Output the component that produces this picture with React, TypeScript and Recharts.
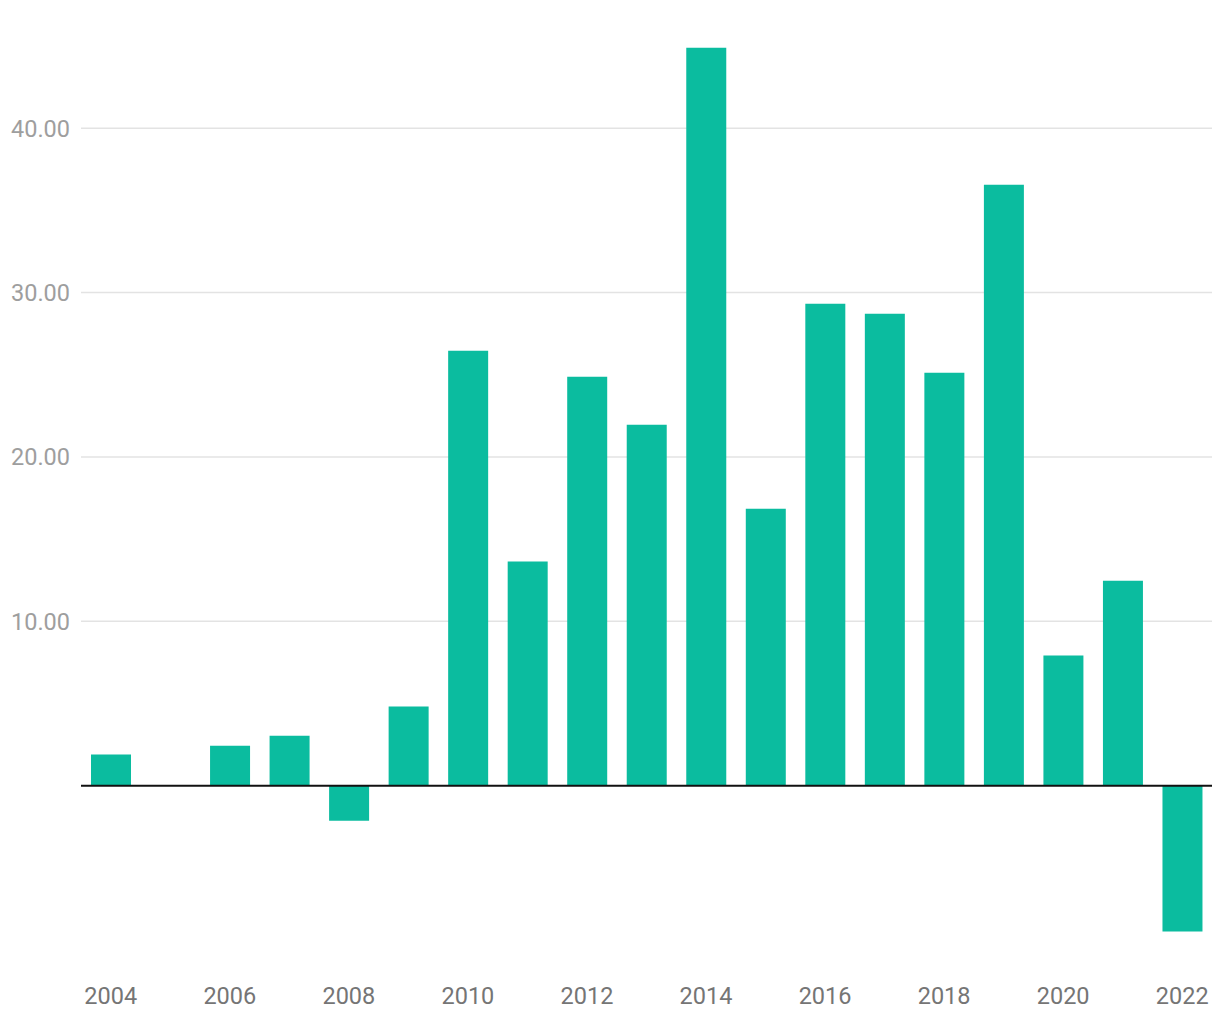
import React from "react";
import { BarChart, Bar, XAxis, YAxis, CartesianGrid, ReferenceLine } from "recharts";

const years = ["2004","2005","2006","2007","2008","2009","2010","2011","2012","2013","2014","2015","2016","2017","2018","2019","2020","2021","2022"];
const values: (number | null)[] = [1.89, null, 2.43, 3.04, -2.13, 4.81, 26.46, 13.63, 24.88, 21.96, 44.9, 16.85, 29.32, 28.71, 25.12, 36.56, 7.91, 12.47, -8.88];
const yTicks = [10, 20, 30, 40];

const data = years.map((y, i) => ({ year: y, value: values[i] }));

const FONT = "Roboto, 'Noto Sans', sans-serif";

const XTick = (props: any) => {
  const { x, y, payload } = props;
  return (
    <text x={x} y={y} dy={46} textAnchor="middle" fill="#757575" fontSize={23.5} fontFamily={FONT}>
      {payload.value}
    </text>
  );
};

const YTick = (props: any) => {
  const { x, y, payload } = props;
  return (
    <text x={x} y={y} dx={-3} dy="0.355em" textAnchor="end" fill="#9e9e9e" fontSize={23.5} fontFamily={FONT}>
      {Number(payload.value).toFixed(2)}
    </text>
  );
};

export default function App() {
  return (
    <div style={{ position: "absolute", left: 0, top: 0, width: 1220, height: 1020, background: "#fff" }}>
      <BarChart width={1220} height={1020} data={data} margin={{ top: 46, right: 8, left: 0, bottom: 0 }}>
        <CartesianGrid vertical={false} syncWithTicks stroke="#e3e3e3" strokeWidth={1.5} />
        <XAxis dataKey="year" interval={1} tickLine={false} axisLine={false} height={70} tick={<XTick />} />
        <YAxis domain={[-10, 45]} ticks={yTicks} tickLine={false} axisLine={false} width={81} tick={<YTick />} allowDataOverflow />
        <Bar dataKey="value" fill="#0bbc9f" barSize={40} isAnimationActive={false} />
        <ReferenceLine y={0} stroke="#111" strokeWidth={2} />
      </BarChart>
    </div>
  );
}
